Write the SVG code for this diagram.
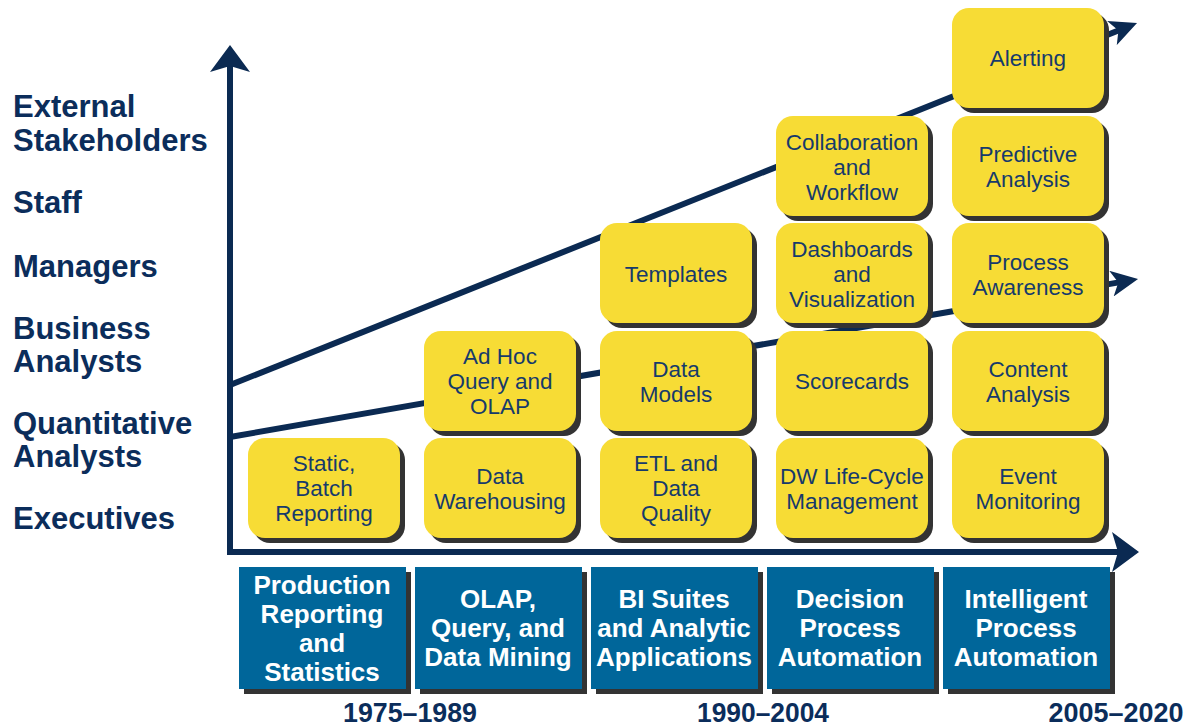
<svg xmlns="http://www.w3.org/2000/svg" width="1193" height="726" viewBox="0 0 1193 726">
<style>
.bg{fill:#ffffff}
.ax{stroke:#0B2A52;stroke-width:6;fill:none}
.lbl{font-family:"Liberation Sans",Arial,sans-serif;font-weight:bold;font-size:31px;fill:#0B2D5B}
.yr{font-family:"Liberation Sans",Arial,sans-serif;font-weight:bold;font-size:28px;fill:#0B2D5B;text-anchor:middle}
.ybox{fill:#F7DC35}
.sh{fill:#333333}
.yt{font-family:"Liberation Sans",Arial,sans-serif;font-size:22.5px;fill:#163A6B;text-anchor:middle}
.bbox{fill:#00669A}
.bt{font-family:"Liberation Sans",Arial,sans-serif;font-weight:bold;font-size:26px;fill:#ffffff;text-anchor:middle}
</style>
<defs>
<marker id="axhead" viewBox="0 -20 27 40" refX="8" refY="0" markerWidth="27" markerHeight="40" markerUnits="userSpaceOnUse" orient="auto">
<path d="M27,0 L0,-20 L6,0 L0,20 Z" fill="#0B2A52"/>
</marker>
<marker id="dhead" viewBox="0 -13 27 26" refX="9" refY="0" markerWidth="27" markerHeight="26" markerUnits="userSpaceOnUse" orient="auto">
<path d="M27,0 L0,-13 L7,0 L0,13 Z" fill="#0B2A52"/>
</marker>
</defs>
<rect class="bg" x="0" y="0" width="1193" height="726"/>

<g id="connectors">
<line class="ax" x1="230" y1="385" x2="1120.3" y2="29.7" marker-end="url(#dhead)"/>
<line class="ax" x1="230" y1="437" x2="1120.3" y2="282.1" marker-end="url(#dhead)"/>
<path class="ax" d="M230,64 L230,552 L1120,552" stroke-linejoin="miter"/>
<line class="ax" x1="230" y1="100" x2="230" y2="64" marker-end="url(#axhead)"/>
<line class="ax" x1="1100" y1="552" x2="1120" y2="552" marker-end="url(#axhead)"/>
</g>

<g id="axis-labels">
<text class="lbl" x="13" y="117">External</text>
<text class="lbl" x="13" y="151">Stakeholders</text>
<text class="lbl" x="13" y="213">Staff</text>
<text class="lbl" x="13" y="277">Managers</text>
<text class="lbl" x="13" y="339">Business</text>
<text class="lbl" x="13" y="372">Analysts</text>
<text class="lbl" x="13" y="434">Quantitative</text>
<text class="lbl" x="13" y="467">Analysts</text>
<text class="lbl" x="13" y="529">Executives</text>
</g>

<!-- column 1 -->
<g id="static-batch-reporting">
<rect class="sh" x="253" y="443" width="152" height="100" rx="17"/>
<rect class="ybox" x="248" y="438" width="152" height="100" rx="17"/>
<text class="yt" x="324" y="471">Static,</text>
<text class="yt" x="324" y="496">Batch</text>
<text class="yt" x="324" y="521">Reporting</text>
</g>

<!-- column 2 -->
<g id="data-warehousing">
<rect class="sh" x="429" y="443" width="152" height="100" rx="17"/>
<rect class="ybox" x="424" y="438" width="152" height="100" rx="17"/>
<text class="yt" x="500" y="484">Data</text>
<text class="yt" x="500" y="509">Warehousing</text>
</g>
<g id="ad-hoc-query-olap">
<rect class="sh" x="429" y="336" width="152" height="100" rx="17"/>
<rect class="ybox" x="424" y="331" width="152" height="100" rx="17"/>
<text class="yt" x="500" y="364">Ad Hoc</text>
<text class="yt" x="500" y="389">Query and</text>
<text class="yt" x="500" y="414">OLAP</text>
</g>

<!-- column 3 -->
<g id="etl-data-quality">
<rect class="sh" x="605" y="443" width="152" height="100" rx="17"/>
<rect class="ybox" x="600" y="438" width="152" height="100" rx="17"/>
<text class="yt" x="676" y="471">ETL and</text>
<text class="yt" x="676" y="496">Data</text>
<text class="yt" x="676" y="521">Quality</text>
</g>
<g id="data-models">
<rect class="sh" x="605" y="336" width="152" height="100" rx="17"/>
<rect class="ybox" x="600" y="331" width="152" height="100" rx="17"/>
<text class="yt" x="676" y="377">Data</text>
<text class="yt" x="676" y="402">Models</text>
</g>
<g id="templates">
<rect class="sh" x="605" y="228" width="152" height="100" rx="17"/>
<rect class="ybox" x="600" y="223" width="152" height="100" rx="17"/>
<text class="yt" x="676" y="282">Templates</text>
</g>

<!-- column 4 -->
<g id="dw-life-cycle-management">
<rect class="sh" x="781" y="443" width="152" height="100" rx="17"/>
<rect class="ybox" x="776" y="438" width="152" height="100" rx="17"/>
<text class="yt" x="852" y="484">DW Life-Cycle</text>
<text class="yt" x="852" y="509">Management</text>
</g>
<g id="scorecards">
<rect class="sh" x="781" y="336" width="152" height="100" rx="17"/>
<rect class="ybox" x="776" y="331" width="152" height="100" rx="17"/>
<text class="yt" x="852" y="389">Scorecards</text>
</g>
<g id="dashboards-visualization">
<rect class="sh" x="781" y="228" width="152" height="100" rx="17"/>
<rect class="ybox" x="776" y="223" width="152" height="100" rx="17"/>
<text class="yt" x="852" y="257">Dashboards</text>
<text class="yt" x="852" y="282">and</text>
<text class="yt" x="852" y="307">Visualization</text>
</g>
<g id="collaboration-workflow">
<rect class="sh" x="781" y="121" width="152" height="100" rx="17"/>
<rect class="ybox" x="776" y="116" width="152" height="100" rx="17"/>
<text class="yt" x="852" y="150">Collaboration</text>
<text class="yt" x="852" y="175">and</text>
<text class="yt" x="852" y="200">Workflow</text>
</g>

<!-- column 5 -->
<g id="event-monitoring">
<rect class="sh" x="957" y="443" width="152" height="100" rx="17"/>
<rect class="ybox" x="952" y="438" width="152" height="100" rx="17"/>
<text class="yt" x="1028" y="484">Event</text>
<text class="yt" x="1028" y="509">Monitoring</text>
</g>
<g id="content-analysis">
<rect class="sh" x="957" y="336" width="152" height="100" rx="17"/>
<rect class="ybox" x="952" y="331" width="152" height="100" rx="17"/>
<text class="yt" x="1028" y="377">Content</text>
<text class="yt" x="1028" y="402">Analysis</text>
</g>
<g id="process-awareness">
<rect class="sh" x="957" y="228" width="152" height="100" rx="17"/>
<rect class="ybox" x="952" y="223" width="152" height="100" rx="17"/>
<text class="yt" x="1028" y="270">Process</text>
<text class="yt" x="1028" y="295">Awareness</text>
</g>
<g id="predictive-analysis">
<rect class="sh" x="957" y="121" width="152" height="100" rx="17"/>
<rect class="ybox" x="952" y="116" width="152" height="100" rx="17"/>
<text class="yt" x="1028" y="162">Predictive</text>
<text class="yt" x="1028" y="187">Analysis</text>
</g>
<g id="alerting">
<rect class="sh" x="957" y="13" width="152" height="100" rx="17"/>
<rect class="ybox" x="952" y="8" width="152" height="100" rx="17"/>
<text class="yt" x="1028" y="66">Alerting</text>
</g>

<!-- era boxes -->
<g id="era-production-reporting">
<rect class="sh" x="244" y="572" width="167" height="122"/>
<rect class="bbox" x="239" y="567" width="167" height="122"/>
<text class="bt" x="322" y="594">Production</text>
<text class="bt" x="322" y="623">Reporting</text>
<text class="bt" x="322" y="652">and</text>
<text class="bt" x="322" y="681">Statistics</text>
</g>
<g id="era-olap">
<rect class="sh" x="420" y="572" width="167" height="122"/>
<rect class="bbox" x="415" y="567" width="167" height="122"/>
<text class="bt" x="498" y="608">OLAP,</text>
<text class="bt" x="498" y="637">Query, and</text>
<text class="bt" x="498" y="666">Data Mining</text>
</g>
<g id="era-bi-suites">
<rect class="sh" x="596" y="572" width="167" height="122"/>
<rect class="bbox" x="591" y="567" width="167" height="122"/>
<text class="bt" x="674" y="608">BI Suites</text>
<text class="bt" x="674" y="637">and Analytic</text>
<text class="bt" x="674" y="666">Applications</text>
</g>
<g id="era-decision-process">
<rect class="sh" x="772" y="572" width="167" height="122"/>
<rect class="bbox" x="767" y="567" width="167" height="122"/>
<text class="bt" x="850" y="608">Decision</text>
<text class="bt" x="850" y="637">Process</text>
<text class="bt" x="850" y="666">Automation</text>
</g>
<g id="era-intelligent-process">
<rect class="sh" x="948" y="572" width="167" height="122"/>
<rect class="bbox" x="943" y="567" width="167" height="122"/>
<text class="bt" x="1026" y="608">Intelligent</text>
<text class="bt" x="1026" y="637">Process</text>
<text class="bt" x="1026" y="666">Automation</text>
</g>

<g id="years">
<text class="yr" x="410" y="722" textLength="134" lengthAdjust="spacingAndGlyphs">1975–1989</text>
<text class="yr" x="763" y="722" textLength="132" lengthAdjust="spacingAndGlyphs">1990–2004</text>
<text class="yr" x="1116" y="722" textLength="135" lengthAdjust="spacingAndGlyphs">2005–2020</text>
</g>
</svg>
